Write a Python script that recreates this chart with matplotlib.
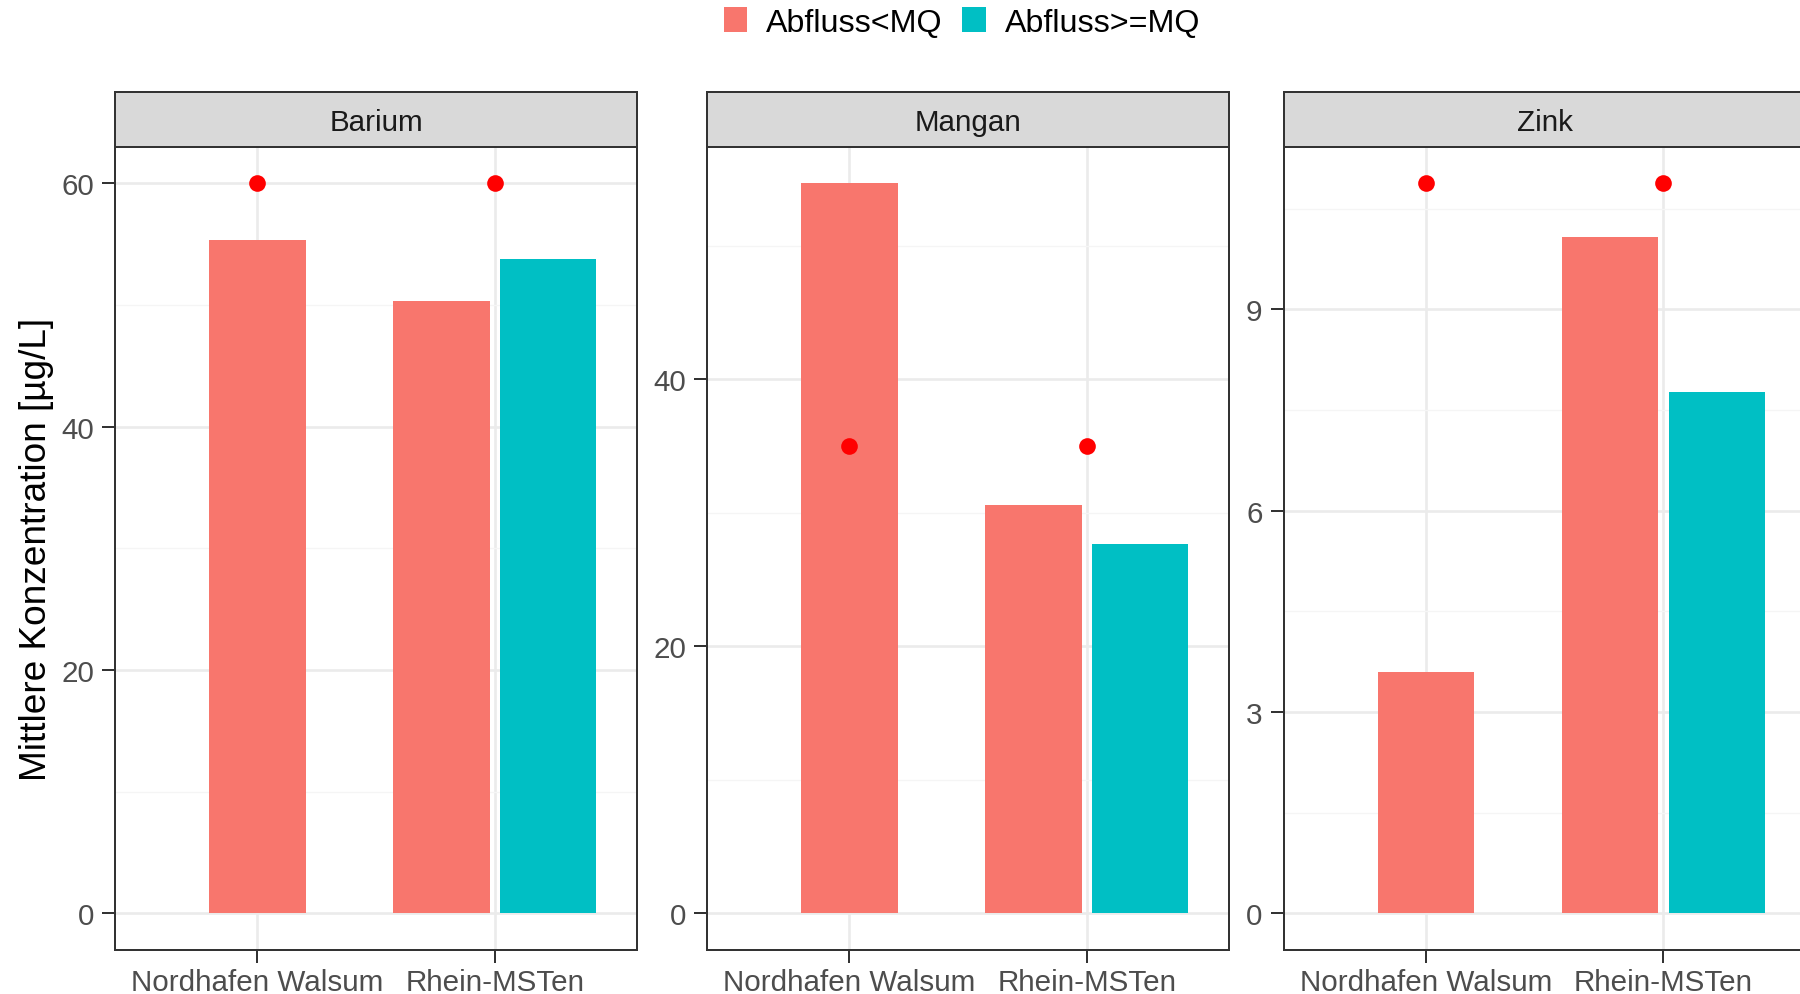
import numpy as np
import matplotlib
matplotlib.use("Agg")
import matplotlib.pyplot as plt
from matplotlib.patches import Patch

plt.rcParams['font.family'] = ['Liberation Sans', 'DejaVu Sans']

# ---- data ----
elements = ["Barium", "Mangan", "Zink"]
stations = ["Nordhafen Walsum", "Rhein-MSTen"]
groups = ["Abfluss<MQ", "Abfluss>=MQ"]
barium_below = [55.3, 50.3]
barium_above = [np.nan, 53.8]
mangan_below = [54.7, 30.6]
mangan_above = [np.nan, 27.7]
zink_below = [3.59, 10.07]
zink_above = [np.nan, 7.76]
barium_limit = [60, 60]
mangan_limit = [35, 35]
zink_limit = [10.88, 10.88]
yticks_major = {"Barium": [0, 20, 40, 60], "Mangan": [0, 20, 40], "Zink": [0, 3, 6, 9]}
yticks_minor = {"Barium": [10, 30, 50], "Mangan": [10, 30, 50], "Zink": [1.5, 4.5, 7.5, 10.5]}

below = {"Barium": barium_below, "Mangan": mangan_below, "Zink": zink_below}
above = {"Barium": barium_above, "Mangan": mangan_above, "Zink": zink_above}
limits = {"Barium": barium_limit, "Mangan": mangan_limit, "Zink": zink_limit}

col_below = "#F8766D"
col_above = "#00BFC4"

W, H = 1800, 995
fig = plt.figure(figsize=(W / 100, H / 100), dpi=100)

px2pt = 72 / 100
tick_fs = 29.6 * px2pt
legend_fs = 32.3 * px2pt
title_fs = 37 * px2pt
border_c = "#333333"
lw_border = 2.0 * px2pt

panel_left = [115, 707, 1283.5]
panel_w = 522.4
panel_top = 147.5
panel_bot = 951.0
strip_top = 93.3

x = np.arange(len(stations))
bw = 0.405
off = 0.225

for el, pl in zip(elements, panel_left):
    ax = fig.add_axes([pl / W, 1 - panel_bot / H, panel_w / W, (panel_bot - panel_top) / H])
    b = np.array(below[el], dtype=float)
    a = np.array(above[el], dtype=float)
    has_a = ~np.isnan(a)
    xb = np.where(has_a, x - off, x)
    ax.bar(xb, b, width=bw, color=col_below, zorder=2, linewidth=0)
    ax.bar(x[has_a] + off, a[has_a], width=bw, color=col_above, zorder=2, linewidth=0)
    ax.plot(x, limits[el], 'o', color="red", markersize=12, markeredgewidth=0, zorder=3)

    ymax = np.nanmax(np.concatenate([b, a, limits[el]]))
    ax.set_ylim(-0.05 * ymax, 1.05 * ymax)
    ax.set_xlim(-0.6, len(stations) - 0.4)
    ax.set_xticks(x)
    ax.set_xticklabels(stations)
    ax.set_yticks(yticks_major[el])
    ax.set_yticks(yticks_minor[el], minor=True)
    ax.grid(True, which='major', color="#EBEBEB", linewidth=2.6 * px2pt, zorder=0)
    ax.grid(True, which='minor', axis='y', color="#F5F5F5", linewidth=1.3 * px2pt, zorder=0)
    ax.set_axisbelow(True)
    ax.tick_params(axis='y', which='major', length=9.2, width=2.0 * px2pt, color=border_c,
                   labelsize=tick_fs, labelcolor="#4D4D4D", pad=6)
    ax.tick_params(axis='x', which='major', length=9.2, width=2.0 * px2pt, color=border_c,
                   labelsize=tick_fs, labelcolor="#4D4D4D", pad=3.5)
    ax.tick_params(axis='both', which='minor', length=0)
    for s in ax.spines.values():
        s.set_color(border_c)
        s.set_linewidth(lw_border)
        s.set_zorder(5)

    sax = fig.add_axes([pl / W, 1 - panel_top / H, panel_w / W, (panel_top - strip_top) / H])
    sax.set_facecolor("#D9D9D9")
    sax.set_xticks([])
    sax.set_yticks([])
    for s in sax.spines.values():
        s.set_color(border_c)
        s.set_linewidth(lw_border)
    sax.text(0.5, 0.45, el, transform=sax.transAxes, ha='center', va='center',
             fontsize=tick_fs, color="#1A1A1A")

fig.text(37 / W, 1 - ((panel_top + panel_bot) / 2) / H, "Mittlere Konzentration [µg/L]",
         rotation=90, ha='center', va='center', fontsize=title_fs, color="black")

handles = [Patch(facecolor=col_below, edgecolor='none'), Patch(facecolor=col_above, edgecolor='none')]
fig.legend(handles, groups, ncol=2, loc='center', bbox_to_anchor=(962 / W, 1 - 23.5 / H),
           frameon=False, fontsize=legend_fs, handlelength=0.72, handleheight=0.82,
           handletextpad=0.6, columnspacing=0.6, borderpad=0, borderaxespad=0)

fig.savefig("out.png", dpi=100)
